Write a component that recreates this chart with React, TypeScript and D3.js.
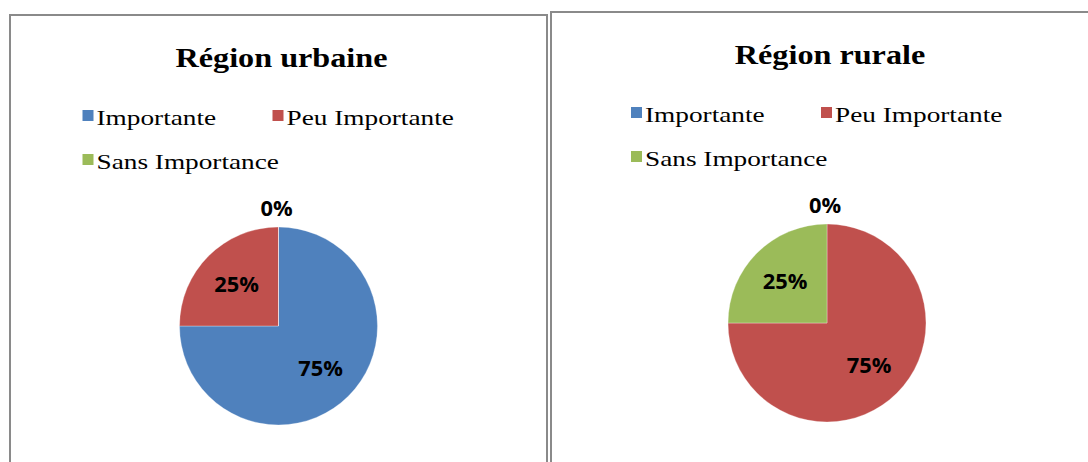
import * as d3 from "d3";

const categories = ["Importante", "Peu Importante", "Sans Importance"];
const colors = ["#4F81BD", "#C0504D", "#9BBB59"];
const titles = ["Région urbaine", "Région rurale"];
const urbanValues = [75, 25, 0];
const ruralValues = [0, 75, 25];

const W = 1088;
const H = 462;

const serif = "Liberation Serif, Times New Roman, serif";

interface PanelProps {
  x: number;
  y: number;
  w: number;
  title: string;
  values: number[];
}

function Panel({ x, y, w, title, values }: PanelProps) {
  const cx = w / 2;
  const cy = 311;
  const r = 99;
  const total = d3.sum(values);

  const pie = d3
    .pie<number>()
    .sort(null)
    .value((d) => d)
    .startAngle(0)
    .endAngle(2 * Math.PI);
  const arcs = pie(values);

  const arc = d3.arc<d3.PieArcDatum<number>>().innerRadius(0).outerRadius(r);
  const labelArc = d3
    .arc<d3.PieArcDatum<number>>()
    .innerRadius(r * 0.6)
    .outerRadius(r * 0.6);

  // legend: two columns, third item wraps to second row
  const legendItems = categories.map((name, i) => ({
    name,
    color: colors[i],
    sx: i === 1 ? cx - 6 : cx - 196,
    base: i === 2 ? 154 : 110,
  }));

  return (
    <g transform={`translate(${x},${y})`}>
      <rect x={0} y={0} width={w} height={H + 20} fill="#fff" stroke="#8a8a8a" strokeWidth={2} />

      <text
        transform={`translate(${cx + 3},52) scale(1.15,1)`}
        textAnchor="middle"
        fontFamily={serif}
        fontWeight="bold"
        fontSize={28}
        fill="#000"
      >
        {title}
      </text>

      {legendItems.map((d) => (
        <g key={d.name}>
          <rect x={d.sx} y={d.base - 15} width={11} height={11} fill={d.color} />
          <text
            transform={`translate(${d.sx + 14},${d.base}) scale(1.24,1)`}
            fontFamily={serif}
            fontSize={22}
            fill="#000"
          >
            {d.name}
          </text>
        </g>
      ))}

      <g transform={`translate(${cx},${cy})`}>
        {arcs.map((a, i) => (
          <path key={i} d={arc(a) || ""} fill={colors[i]} stroke="#fff" strokeOpacity={0.5} strokeWidth={0.6} />
        ))}
        {arcs.map((a, i) => {
          const pct = `${Math.round((a.data / total) * 100)}%`;
          let [lx, ly] = labelArc.centroid(a);
          if (a.data === 0) {
            const ang = a.startAngle;
            lx = Math.sin(ang) * (r + 19) - 2;
            ly = -Math.cos(ang) * (r + 19);
          }
          return (
            <text
              key={`l${i}`}
              transform={`translate(${lx},${ly}) scale(1.04,1)`}
              textAnchor="middle"
              dominantBaseline="central"
              fontFamily="Open Sans, Liberation Sans, sans-serif"
              fontWeight={700}
              fontSize={21}
              fill="#000"
            >
              {pct}
            </text>
          );
        })}
      </g>
    </g>
  );
}

export default function App() {
  return (
    <svg
      width={W}
      height={H}
      style={{ position: "absolute", left: 0, top: 0, background: "#fff" }}
    >
      <Panel x={10} y={15} w={537} title={titles[0]} values={urbanValues} />
      <Panel x={551} y={12} w={552} title={titles[1]} values={ruralValues} />
    </svg>
  );
}
